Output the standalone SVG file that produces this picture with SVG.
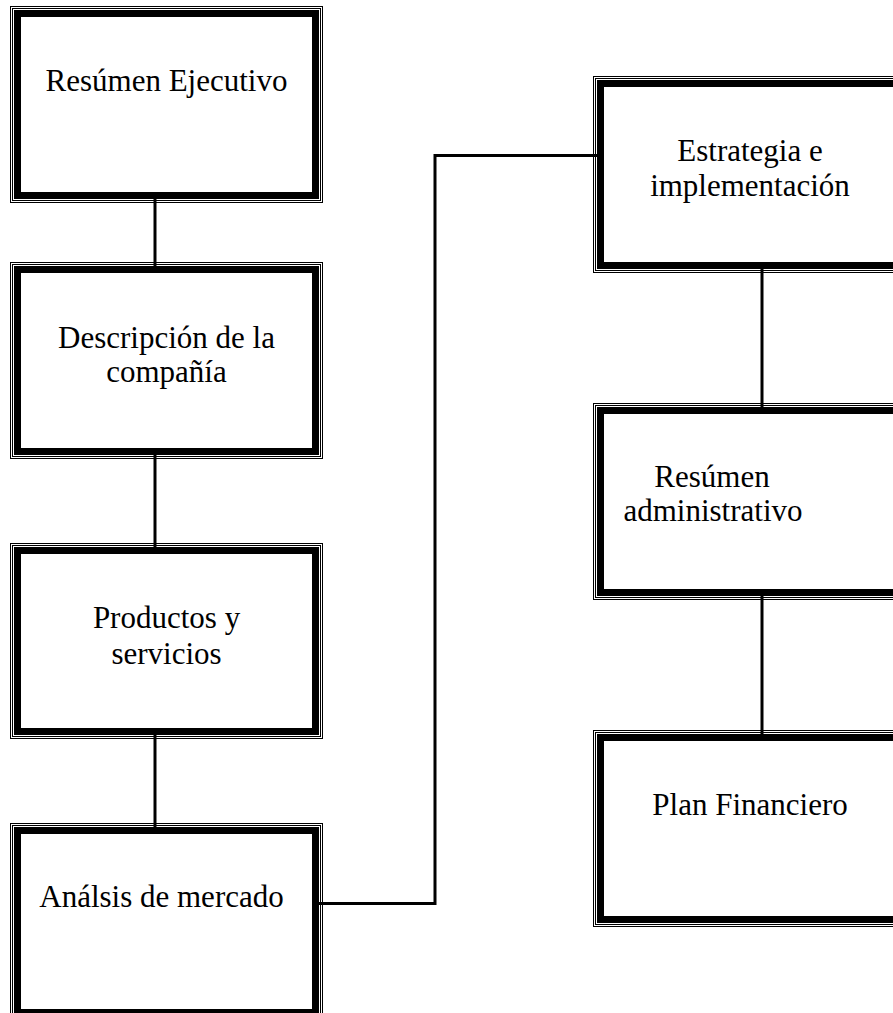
<svg xmlns="http://www.w3.org/2000/svg" width="893" height="1013" viewBox="0 0 893 1013">
<style>
.o{fill:#fff;stroke:#000;stroke-width:1}
.i{fill:none;stroke:#000;stroke-width:1}
.k{fill:#fff;stroke:#000;stroke-width:7}
.c{fill:none;stroke:#000;stroke-width:3}
text{font-family:"Liberation Serif","Times New Roman",serif;font-size:31px;fill:#000;text-anchor:middle}
</style>
<rect width="893" height="1013" fill="#fff"/>
<g id="n1">
<rect class="o" x="10.5" y="6.5" width="312" height="196"/>
<rect class="i" x="12.5" y="8.5" width="308" height="192"/>
<rect class="k" x="17.5" y="13.5" width="298" height="182"/>
<text x="166.5" y="91">Resúmen Ejecutivo</text>
</g>
<g id="n2">
<rect class="o" x="10.5" y="262.5" width="312" height="196"/>
<rect class="i" x="12.5" y="264.5" width="308" height="192"/>
<rect class="k" x="17.5" y="269.5" width="298" height="182"/>
<text x="166.5" y="348">Descripción de la</text>
<text x="166.5" y="382">compañía</text>
</g>
<g id="n3">
<rect class="o" x="10.5" y="543.5" width="312" height="195"/>
<rect class="i" x="12.5" y="545.5" width="308" height="191"/>
<rect class="k" x="17.5" y="550.5" width="298" height="181"/>
<text x="166.5" y="628">Productos y</text>
<text x="166.5" y="664">servicios</text>
</g>
<g id="n4">
<rect class="o" x="10.5" y="823.5" width="312" height="196"/>
<rect class="i" x="12.5" y="825.5" width="308" height="192"/>
<rect class="k" x="17.5" y="830.5" width="298" height="182"/>
<text x="161.5" y="907">Análsis de mercado</text>
</g>
<g id="n5">
<rect class="o" x="593.5" y="76.5" width="312" height="196"/>
<rect class="i" x="595.5" y="78.5" width="308" height="192"/>
<rect class="k" x="600.5" y="83.5" width="298" height="182"/>
<text x="750" y="161">Estrategia e</text>
<text x="750" y="196">implementación</text>
</g>
<g id="n6">
<rect class="o" x="593.5" y="403.5" width="312" height="196"/>
<rect class="i" x="595.5" y="405.5" width="308" height="192"/>
<rect class="k" x="600.5" y="410.5" width="298" height="182"/>
<text x="712" y="487">Resúmen</text>
<text x="713" y="521">administrativo</text>
</g>
<g id="n7">
<rect class="o" x="593.5" y="730.5" width="312" height="196"/>
<rect class="i" x="595.5" y="732.5" width="308" height="192"/>
<rect class="k" x="600.5" y="737.5" width="298" height="182"/>
<text x="750" y="815">Plan Financiero</text>
</g>
<g id="connectors">
<line class="c" x1="155" y1="199" x2="155" y2="266"/>
<line class="c" x1="155" y1="455" x2="155" y2="547"/>
<line class="c" x1="155" y1="735" x2="155" y2="827"/>
<line class="c" x1="762" y1="269" x2="762" y2="407"/>
<line class="c" x1="762" y1="596" x2="762" y2="734"/>
<polyline class="c" points="319,903.5 435,903.5 435,155.5 597,155.5"/>
</g>
</svg>
